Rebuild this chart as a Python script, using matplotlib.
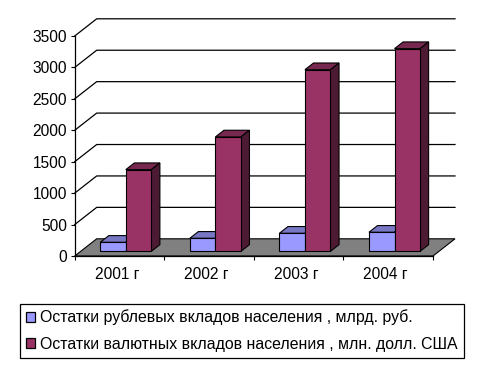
import matplotlib
matplotlib.use('Agg')
import matplotlib.pyplot as plt
from matplotlib.patches import Patch, Polygon

plt.rcParams['font.family'] = ['Liberation Sans', 'DejaVu Sans']

years = ['2001 г', '2002 г', '2003 г', '2004 г']
rub_deposits = [144, 208, 288, 304]
usd_deposits = [1300, 1820, 2890, 3225]
y_ticks = [0, 500, 1000, 1500, 2000, 2500, 3000, 3500]
rub_label = 'Остатки рублевых вкладов населения , млрд. руб.'
usd_label = 'Остатки валютных вкладов населения , млн. долл. США'

W, H = 485, 370
LEFT, RIGHT, TOP, BOTTOM = 74.7, 433, 36, 256

# depth of the 3d box, in data units
DEPTH_X = 22 / 89.6
DEPTH_Y = 17.2 / (220 / 3500)
BAR_W = 0.285
BAR_START = 0.219
BAR_FRONT, BAR_BACK = 0.27, 0.66


def project(x, v, d):
    return (x + d * DEPTH_X, v + d * DEPTH_Y)


def draw_bar(ax, x, value, colors):
    front, top, side = colors
    x2 = x + BAR_W
    faces = [
        ([project(x, value, BAR_FRONT), project(x2, value, BAR_FRONT),
          project(x2, value, BAR_BACK), project(x, value, BAR_BACK)], top),
        ([project(x2, 0, BAR_FRONT), project(x2, value, BAR_FRONT),
          project(x2, value, BAR_BACK), project(x2, 0, BAR_BACK)], side),
        ([project(x, 0, BAR_FRONT), project(x2, 0, BAR_FRONT),
          project(x2, value, BAR_FRONT), project(x, value, BAR_FRONT)], front),
    ]
    for pts, color in faces:
        ax.add_patch(Polygon(pts, closed=True, facecolor=color, edgecolor='black',
                             linewidth=0.8, zorder=4, clip_on=False))


fig = plt.figure(figsize=(W / 100, H / 100), dpi=100, facecolor='white')
ax = fig.add_axes([LEFT / W, 1 - BOTTOM / H, (RIGHT - LEFT) / W, (BOTTOM - TOP) / H])
ax.set_xlim(0, len(years))
ax.set_ylim(0, y_ticks[-1])
ax.patch.set_visible(False)

# wall gridlines
for v in y_ticks[1:]:
    back_l = project(0, v, 1)
    back_r = project(len(years), v, 1)
    ax.plot([0, back_l[0], back_r[0]], [v, back_l[1], back_r[1]], color='black',
            linewidth=0.9, clip_on=False, zorder=1)

# floor
floor = [project(0, 0, 0), project(len(years), 0, 0),
         project(len(years), 0, 1), project(0, 0, 1)]
ax.add_patch(Polygon(floor, closed=True, facecolor='#808080', edgecolor='black',
                     linewidth=0.8, clip_on=False, zorder=2))

for i in range(len(years)):
    x = i + BAR_START
    draw_bar(ax, x, rub_deposits[i], ('#9999FF', '#7777C4', '#4D4D80'))
    draw_bar(ax, x + BAR_W, usd_deposits[i], ('#993366', '#77284F', '#4D1A33'))

for s in ['top', 'right']:
    ax.spines[s].set_visible(False)
for s in ['left', 'bottom']:
    ax.spines[s].set_linewidth(0.9)
    ax.spines[s].set_zorder(3)

ax.set_yticks(y_ticks)
ax.tick_params(axis='y', labelsize=11.2, length=3, width=0.8, pad=2.5)
ax.set_xticks(range(len(years) + 1))
ax.set_xticklabels([])
ax.set_xticks([i + 0.47 for i in range(len(years))], labels=years, minor=True)
ax.tick_params(axis='x', which='major', length=3, width=0.8)
ax.tick_params(axis='x', which='minor', length=0, labelsize=11.2, pad=8)

handles = [Patch(facecolor='#9999FF', edgecolor='black', linewidth=0.9, label=rub_label),
           Patch(facecolor='#993366', edgecolor='black', linewidth=0.9, label=usd_label)]
leg = fig.legend(handles=handles, loc='upper left',
                 bbox_to_anchor=(19.5 / W, 1 - 303.5 / H), bbox_transform=fig.transFigure,
                 fontsize=11.4, frameon=True, fancybox=False, framealpha=1,
                 edgecolor='black', borderaxespad=0, handlelength=0.6, handleheight=0.6,
                 handletextpad=0.32, labelspacing=0.72, borderpad=0.38)
leg.get_frame().set_linewidth(0.9)

fig.savefig('out.png', dpi=100)
